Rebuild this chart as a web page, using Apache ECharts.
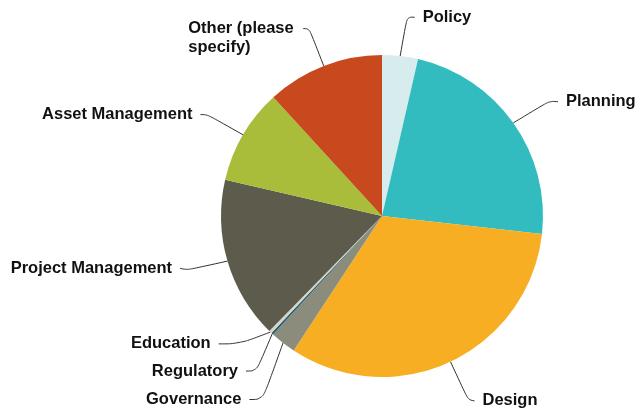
<!DOCTYPE html>
<html>
<head>
<meta charset="utf-8">
<script src="https://cdn.jsdelivr.net/npm/echarts@6/dist/echarts.min.js"></script>
<style>
  html, body { margin: 0; padding: 0; background: #fff; }
  #chart { width: 638px; height: 408px; }
</style>
</head>
<body>
<div id="chart"></div>
<script>
// Share of responses by area of work (percent)
const categories = ['Policy', 'Planning', 'Design', 'Governance', 'Regulatory', 'Education',
  'Project Management', 'Asset Management', 'Other (please\nspecify)'];
const shares = [3.6, 23.2, 32.5, 2.6, 0.2, 0.3, 16.3, 9.6, 11.8];
const sliceColors = ['#d7ecec', '#33bcc0', '#f7ae22', '#8b8c7c', '#1f5d73', '#d8d5c4',
  '#5d5b4c', '#a9bd3b', '#c8491d'];

const chart = echarts.init(document.getElementById('chart'), null, { renderer: 'canvas' });

// Multi-line labels keep their lines flush left inside a fixed-width box
function labelText(name) {
  if (name.indexOf('\n') < 0) return name;
  return name.split('\n').map(line => '{l|' + line + '}').join('\n');
}

// Label offsets from the radial default; "fan" labels get a leader that
// bends into a horizontal run, "keepLine" leaves the leader where it is.
const labelTweaks = {
  'Policy': { dx: 4, dy: 1 },
  'Planning': { dx: 6, dy: 2 },
  'Design': { dx: 1, dy: 3 },
  'Project Management': { dx: -3, dy: -4 },
  'Asset Management': { dx: -2, dy: 0 },
  'Other (please\nspecify)': { dx: 1, dy: 9, keepLine: true },
  'Education': { dx: -18, dy: -17, fan: true },
  'Regulatory': { dx: 7, dy: 8, fan: true },
  'Governance': { dx: -3, dy: 25, fan: true }
};

function layoutLabel(params) {
  const name = categories[params.dataIndex];
  const t = labelTweaks[name] || { dx: 0, dy: 0 };
  const pts = params.labelLinePoints;
  if (!pts) return { dx: t.dx, dy: t.dy };
  const p0 = pts[0];
  let p1 = pts[1];
  let p2 = pts[2];
  if (t.keepLine) {
    // leader stays at the first text line
  } else if (t.fan) {
    p2 = [p2[0] + t.dx, p2[1] + t.dy];
    p1 = [p2[0] + (p0[0] - p2[0]) * 0.4, p2[1]];
  } else {
    p2 = [p2[0] + t.dx, p2[1] + t.dy];
    p1 = [p1[0] + t.dx * 0.6, p1[1] + t.dy * 0.6];
  }
  return { dx: t.dx, dy: t.dy, labelLinePoints: [p0, p1, p2] };
}

chart.setOption({
  animation: false,
  backgroundColor: '#ffffff',
  series: [{
    type: 'pie',
    center: [382, 216],
    radius: [0, 161],
    startAngle: 90,
    clockwise: true,
    avoidLabelOverlap: false,
    minShowLabelAngle: 0,
    data: categories.map((name, i) => ({
      name: name,
      value: shares[i],
      itemStyle: { color: sliceColors[i] }
    })),
    itemStyle: { borderWidth: 0 },
    label: {
      show: true,
      position: 'outside',
      formatter: p => labelText(p.name),
      color: '#111',
      fontFamily: 'Liberation Sans, Arial, sans-serif',
      fontWeight: 'bold',
      fontSize: 16.5,
      lineHeight: 19,
      distanceToLabelLine: 8,
      rich: {
        l: {
          width: 108,
          align: 'left',
          color: '#111',
          fontFamily: 'Liberation Sans, Arial, sans-serif',
          fontWeight: 'bold',
          fontSize: 16.5,
          lineHeight: 19
        }
      }
    },
    labelLine: {
      show: true,
      length: 40,
      length2: 6,
      smooth: 0.4,
      lineStyle: { color: '#333', width: 1 }
    },
    labelLayout: layoutLabel,
    emphasis: { disabled: true }
  }]
});
</script>
</body>
</html>
